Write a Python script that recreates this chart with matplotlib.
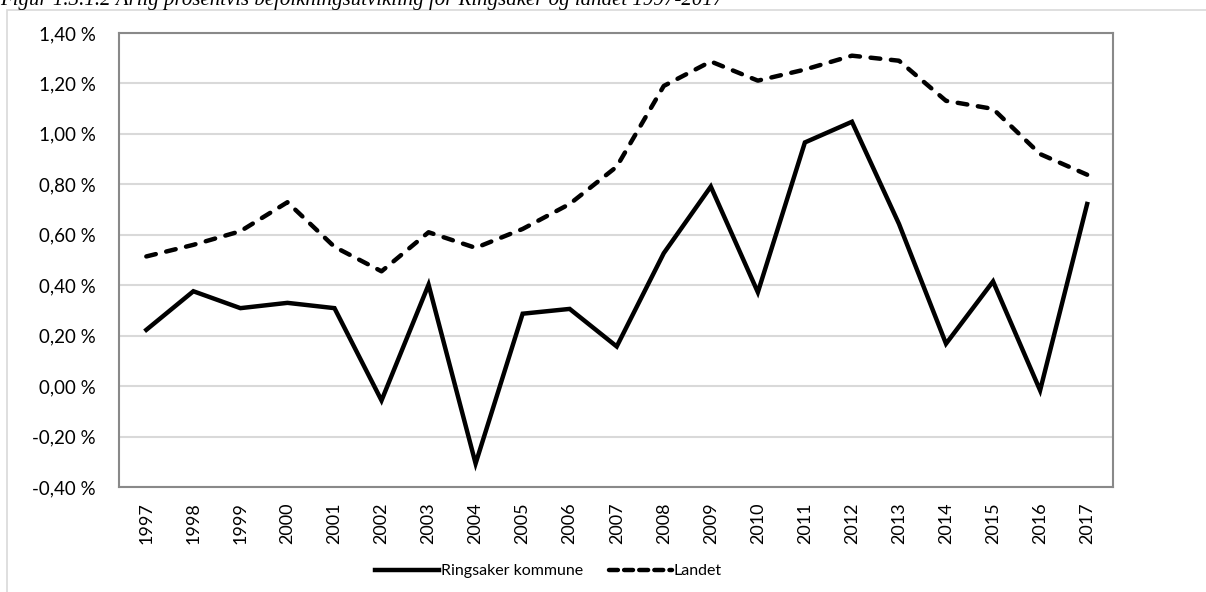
import matplotlib
matplotlib.use("Agg")
import matplotlib.pyplot as plt
from matplotlib.ticker import FuncFormatter, MultipleLocator
from matplotlib.lines import Line2D
from matplotlib.patches import Rectangle

years = list(range(1997, 2018))
ringsaker = [0.223, 0.376, 0.309, 0.330, 0.309, -0.057, 0.402, -0.307, 0.287, 0.306,
             0.157, 0.527, 0.791, 0.372, 0.966, 1.048, 0.643, 0.168, 0.415, -0.017, 0.722]
landet = [0.514, 0.560, 0.614, 0.729, 0.552, 0.455, 0.610, 0.548, 0.623, 0.722,
          0.870, 1.190, 1.287, 1.211, 1.255, 1.310, 1.290, 1.131, 1.099, 0.920, 0.838]

TITLE = "Figur 1.3.1.2 Årlig prosentvis befolkningsutvikling for Ringsaker og landet 1997-2017"
FONT = ["Lato", "DejaVu Sans"]
GRID = "#d9d9d9"
FRAME = "#898989"

fig = plt.figure(figsize=(12.06, 5.92), dpi=100)
ax = fig.add_axes([0.0987, 0.1774, 0.9229 - 0.0987, 0.9443 - 0.1774])

# outer chart border (runs past right/bottom edge like the cropped original)
fig.patches.append(Rectangle((0.006, -0.05), 1.2, 0.05 + 0.983, transform=fig.transFigure,
                             fill=False, edgecolor="#d9d9d9", linewidth=1.2))

# title, cropped at the top of the picture as in the original
fig.text(0.0, 1 - 5 / 592, TITLE, family="Liberation Serif", style="italic",
         fontsize=15, va="baseline", ha="left")

x = list(range(len(years)))
ax.plot(x, ringsaker, color="black", linewidth=3.2, solid_joinstyle="miter",
        label="Ringsaker kommune", zorder=3)
ax.plot(x, landet, color="black", linewidth=3.2, dashes=(2.2, 2.4),
        dash_capstyle="round", label="Landet", zorder=3)

ax.set_xlim(-0.58, 20.55)
ax.set_ylim(-0.40, 1.40)
ax.yaxis.set_major_locator(MultipleLocator(0.2))
ax.yaxis.set_major_formatter(FuncFormatter(lambda v, p: f"{v:.2f}".replace(".", ",").replace("-0,00", "0,00") + " %"))
ax.set_xticks(x)
ax.set_xticklabels([str(y) for y in years], rotation=90, family=FONT, fontsize=13)
for lbl in ax.get_yticklabels():
    lbl.set_family(FONT)
    lbl.set_fontsize(13.5)
ax.tick_params(axis="both", length=0, colors="black")
ax.tick_params(axis="y", pad=17)
ax.tick_params(axis="x", pad=11)
ax.grid(axis="y", color=GRID, linewidth=1.5)
ax.set_axisbelow(True)
for s in ax.spines.values():
    s.set_color(FRAME)
    s.set_linewidth(1.5)

handles = [Line2D([], [], color="black", linewidth=3.2),
           Line2D([], [], color="black", linewidth=3.2, dashes=(2.0, 1.4), dash_capstyle="round")]
fig.legend(handles, ["Ringsaker kommune", "Landet"], loc="center", bbox_to_anchor=(0.455, 0.035),
           ncol=2, frameon=False, prop={"family": FONT, "size": 11.5}, handlelength=4.0,
           handletextpad=0.1, columnspacing=1.6)

fig.savefig("out.png", dpi=100)
